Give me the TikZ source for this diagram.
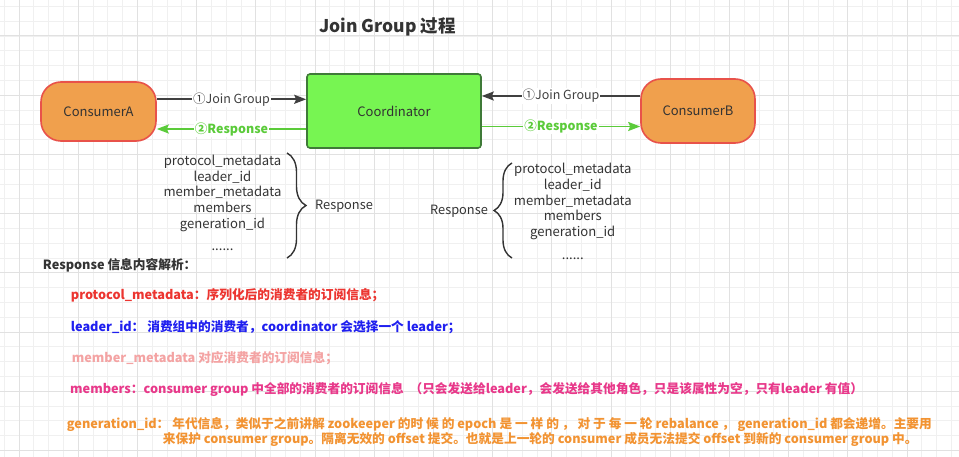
\documentclass[tikz,border=0pt]{standalone}
\usepackage{fontspec}
\setmainfont{Noto Sans CJK SC}
\usetikzlibrary{arrows.meta,decorations.pathreplacing}
\definecolor{gridminor}{HTML}{F0F0F0}
\definecolor{gridmajor}{HTML}{E1E1E1}
\definecolor{orfill}{HTML}{F0A04D}
\definecolor{orline}{HTML}{E8524A}
\definecolor{grfill}{HTML}{77F552}
\definecolor{grline}{HTML}{3F7A38}
\definecolor{darkarrow}{HTML}{404040}
\definecolor{greenarrow}{HTML}{5BCB3A}
\definecolor{txtgray}{HTML}{333333}
\definecolor{cred}{HTML}{EC3530}
\definecolor{cblue}{HTML}{1F1FEF}
\definecolor{cpink}{HTML}{F4A3A3}
\definecolor{cmag}{HTML}{E8388A}
\definecolor{corange}{HTML}{F29332}
\begin{document}
\begin{tikzpicture}[x=1pt,y=-1pt,
  consumer/.style={draw=orline, line width=1.6pt, fill=orfill, rounded corners=20pt, font=\fontsize{13}{15}\selectfont, text=txtgray},
  coordbox/.style={draw=grline, line width=1.6pt, fill=grfill, rounded corners=3pt, font=\fontsize{13}{15}\selectfont, text=txtgray},
  joinarrow/.style={draw=darkarrow, line width=1.8pt, -{Stealth[length=12pt,width=9pt,inset=2pt]}},
  resparrow/.style={draw=greenarrow, line width=1.8pt, -{Stealth[length=12pt,width=9pt,inset=2pt]}},
  joinlabel/.style={fill=white, inner sep=1pt, text=darkarrow, font=\fontsize{12.5}{14}\selectfont},
  resplabel/.style={fill=white, inner sep=1pt, text=greenarrow, font=\bfseries\fontsize{12.5}{14}\selectfont},
  listtext/.style={align=center, text=txtgray, font=\fontsize{13.1}{15.7}\selectfont, inner sep=0pt},
  bracestyle/.style={draw=txtgray, line width=1.4pt, decorate},
  resptext/.style={text=txtgray, font=\fontsize{12.8}{15}\selectfont, inner sep=0pt},
  note/.style={anchor=west, inner sep=0pt, font=\bfseries\fontsize{12.7}{15}\selectfont}
]
\useasboundingbox (0,0) rectangle (959,457);
\fill[white] (0,0) rectangle (959,457);
% grid
\foreach \i in {0,...,64} \draw[gridminor, line width=0.8pt] ({4.2+14.8*\i},0) -- ({4.2+14.8*\i},457);
\foreach \j in {0,...,30} \draw[gridminor, line width=0.8pt] (0,{6.4+14.8*\j}) -- (959,{6.4+14.8*\j});
\foreach \i in {0,...,16} \draw[gridmajor, line width=1pt] ({19+59.2*\i},0) -- ({19+59.2*\i},457);
\foreach \j in {0,...,7} \draw[gridmajor, line width=1pt] (0,{36+59.2*\j}) -- (959,{36+59.2*\j});

% title
\node[text=txtgray, font=\bfseries\fontsize{17.5}{20}\selectfont] (title) at (387.5,27) {Join Group 过程};

% nodes
\node[consumer, minimum width=115pt, minimum height=59pt] (A) at (98.5,111.5) {ConsumerA};
\node[coordbox, minimum width=174pt, minimum height=74pt] (C) at (394,111) {Coordinator};
\node[consumer, minimum width=114pt, minimum height=64pt] (B) at (698,111) {ConsumerB};

\coordinate (yA1) at (0,99.3);
\coordinate (yA2) at (0,129);
\coordinate (yB1) at (0,96);
\coordinate (yB2) at (0,126.5);

\draw[joinarrow] (A.east |- yA1) -- node[joinlabel] {①Join Group} (C.west |- yA1);
\draw[resparrow] (C.west |- yA2) -- node[resplabel] {②Response} (A.east |- yA2);
\draw[joinarrow] (B.west |- yB1) -- node[joinlabel] {①Join Group} (C.east |- yB1);
\draw[resparrow] (C.east |- yB2) -- node[resplabel] {②Response} (B.west |- yB2);

% left list
\node[listtext] (listL) at (222.5,203) {protocol\_metadata\\leader\_id\\member\_metadata\\members\\generation\_id\\[7pt]......};
\coordinate (bLt) at (287,153);
\coordinate (bLb) at (287,258);
\draw[bracestyle, decoration={brace, amplitude=19pt}] (bLt) -- (bLb);
\node[resptext, anchor=west] (respL) at (315,206.7) {Response};

% right list
\node[listtext] (listR) at (572.8,211.5) {protocol\_metadata\\leader\_id\\member\_metadata\\members\\generation\_id\\[7pt]......};
\coordinate (bRt) at (512,163);
\coordinate (bRb) at (512,258);
\draw[bracestyle, decoration={brace, amplitude=18pt}] (bRb) -- (bRt);
\node[resptext] (respR) at (459,211) {Response};

% notes
\node[note, text=txtgray] (n0) at (42.7,265) {Response 信息内容解析：};
\node[note, text=cred] (n1) at (70.7,295) {protocol\_metadata：序列化后的消费者的订阅信息；};
\node[note, text=cblue] (n2) at (70.7,327.3) {leader\_id：\ 消费组中的消费者，coordinator 会选择一个 leader；};
\node[note, text=cpink] (n3) at (71.7,358.3) {member\_metadata 对应消费者的订阅信息；};
\node[note, text=cmag] (n4) at (70,390) {members：consumer group 中全部的消费者的订阅信息\ \ （只会发送给leader，会发送给其他角色，只是该属性为空，只有leader 有值）};
\node[note, text=corange] (n5) at (66.7,424) {generation\_id：\ 年代信息，类似于之前讲解 zookeeper 的时 候 的 epoch 是 一 样 的 ， 对 于 每 一 轮 rebalance ，\ generation\_id 都会递增。主要用};
\node[note, text=corange] (n6) at (162.7,439.3) {来保护 consumer group。隔离无效的 offset\ 提交。也就是上一轮的 consumer 成员无法提交 offset 到新的 consumer group 中。};
\end{tikzpicture}
\end{document}
